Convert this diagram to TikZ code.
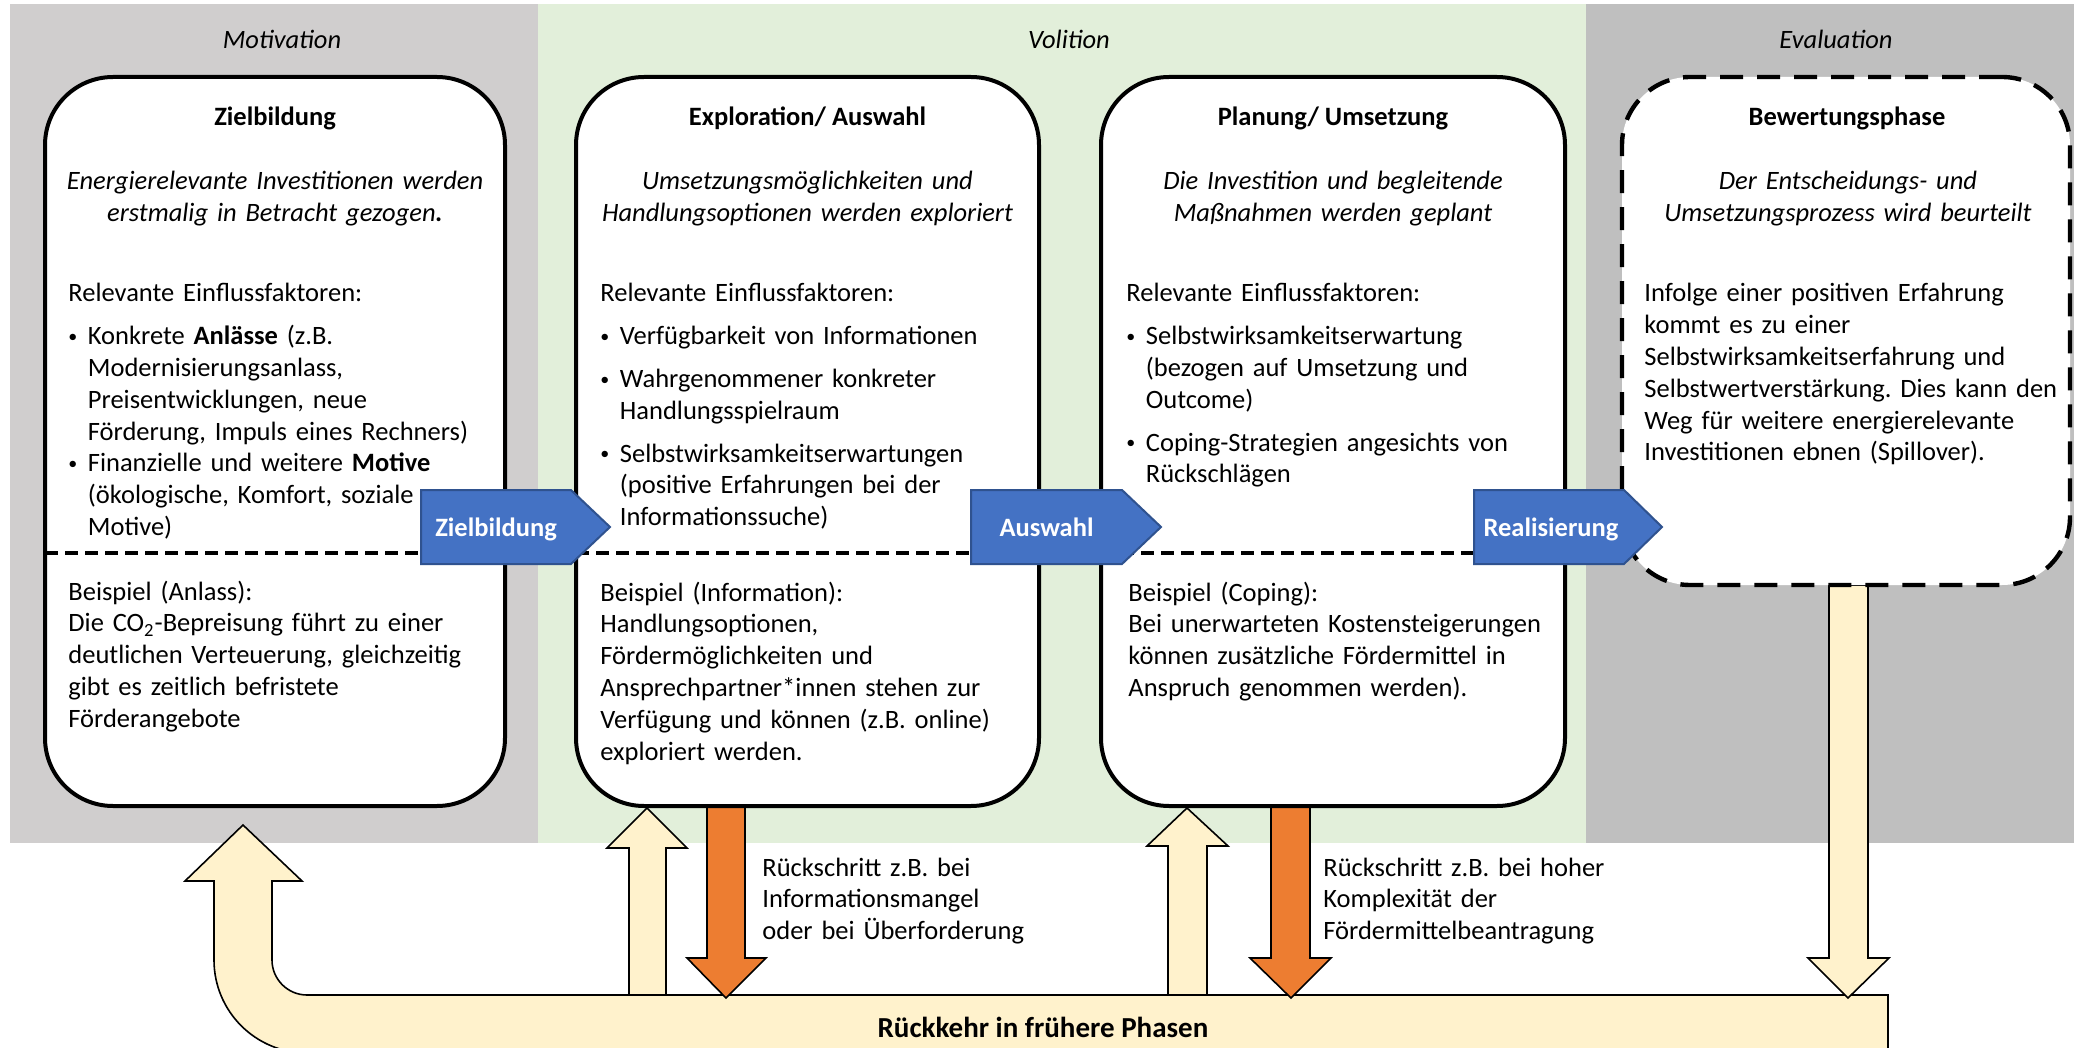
\documentclass[tikz,border=0pt]{standalone}
\usepackage{fontspec}
\setmainfont{Carlito}
\frenchspacing
\definecolor{motgray}{HTML}{D0CECE}
\definecolor{evgray}{HTML}{BFBFBF}
\definecolor{volgreen}{HTML}{E2EFDA}
\definecolor{arrblue}{HTML}{4472C4}
\definecolor{arrblueedge}{HTML}{2F528F}
\definecolor{retyellow}{HTML}{FFF2CC}
\definecolor{steporange}{HTML}{ED7D31}
\newcommand{\bfnt}{\fontsize{13.25pt}{15.9pt}\selectfont}
\newcommand{\bulitem}{\makebox[9.75pt][l]{\raisebox{1.1pt}{\fontsize{9pt}{9pt}\selectfont •}}}
\newcommand{\contind}{\hspace*{9.75pt}}
\begin{document}
\begin{tikzpicture}[x=0.5pt,y=-0.5pt,
  phasebox/.style={draw=black, line width=2pt, fill=white, rounded corners=34pt, inner sep=0pt},
  sepline/.style={line width=2pt, dash pattern=on 6.5pt off 3.5pt},
  blockarrow/.style={fill=arrblue, draw=arrblueedge, line width=1pt},
  arrowlabel/.style={text=white, font=\bfnt\bfseries, inner sep=0pt, anchor=base},
  titletext/.style={font=\bfnt\bfseries, inner sep=0pt, anchor=base},
  introtext/.style={font=\bfnt\itshape, inner sep=0pt, anchor=base, text width=300pt, align=center},
  bodytext/.style={font=\bfnt, inner sep=0pt, anchor=base west, text width=240pt, align=left},
  phaselabel/.style={font=\bfnt\itshape, inner sep=0pt, anchor=base},
  backarrow/.style={fill=retyellow, draw=black, line width=0.8pt},
  steparrow/.style={fill=steporange, draw=black, line width=0.8pt},
  notetext/.style={font=\bfnt, inner sep=0pt, anchor=base west, text width=160pt, align=left},
]
\useasboundingbox (0,0) rectangle (2074,1048);
\clip (0,0) rectangle (2074,1048);
% phase panels
\fill[motgray] (10,4) rectangle (538,843);
\fill[volgreen] (538,4) rectangle (1586,843);
\fill[evgray] (1586,4) rectangle (2074,843);
\node[phaselabel] (lmot) at (282,49) {Motivation};
\node[phaselabel] (lvol) at (1069,49) {Volition};
\node[phaselabel] (leva) at (1836,49) {Evaluation};

% return arrow (U-shaped)
\draw[backarrow] (243,825) -- (302,881) -- (272,881) -- (272,960)
  .. controls (272,979.3) and (287.7,995) .. (307,995) -- (1888,995) -- (1888,1053) -- (307,1053)
  .. controls (255.6,1053) and (214,1011.4) .. (214,960) -- (214,881) -- (185,881) -- cycle;
\node[font=\fontsize{14.5pt}{17pt}\selectfont\bfseries, inner sep=0pt, anchor=base] (ret) at (1043,1037) {Rückkehr in frühere Phasen};

% small up arrows
\draw[backarrow] (647,808) -- (687,848) -- (666,848) -- (666,995) -- (629,995) -- (629,848) -- (607,848) -- cycle;
\draw[backarrow] (1187,808) -- (1228,846) -- (1207,846) -- (1207,995) -- (1168,995) -- (1168,846) -- (1147,846) -- cycle;
% evaluation down arrow
\draw[backarrow] (1829,585) -- (1868,585) -- (1868,958) -- (1889,958) -- (1848,998) -- (1808,958) -- (1829,958) -- cycle;
% orange step-back arrows
\draw[steparrow] (707,806) -- (745,806) -- (745,958) -- (766,958) -- (726,998) -- (687,958) -- (707,958) -- cycle;
\draw[steparrow] (1271,806) -- (1310,806) -- (1310,958) -- (1331,958) -- (1291,998) -- (1250,958) -- (1271,958) -- cycle;

\node[notetext] (n1) at (762,876) {Rückschritt z.B. bei\\Informationsmangel\\oder bei Überforderung};
\node[notetext] (n2) at (1323,876) {Rückschritt z.B. bei hoher\\Komplexität der\\Fördermittelbeantragung};

% phase boxes
\node[phasebox, minimum width=230pt, minimum height=364.5pt] (b1) at (275,441.5) {};
\node[phasebox, minimum width=231.5pt, minimum height=364.5pt] (b2) at (807.5,441.5) {};
\node[phasebox, minimum width=232pt, minimum height=364.5pt] (b3) at (1333,441.5) {};
\node[phasebox, dash pattern=on 11.5pt off 7pt, line width=2.2pt, minimum width=224pt, minimum height=254pt] (b4) at (1846,331) {};

% separators
\draw[sepline] (45,553) -- (421,553);
\draw[sepline] (576,553) -- (971,553);
\draw[sepline] (1101,553) -- (1474,553);

% transition arrows
\draw[blockarrow] (421,490) -- (571,490) -- (610,527) -- (571,564) -- (421,564) -- cycle;
\node[arrowlabel] (az) at (496,536) {Zielbildung};
\draw[blockarrow] (971,490) -- (1122,490) -- (1161,527) -- (1122,564) -- (971,564) -- cycle;
\node[arrowlabel] (aa) at (1046.5,536) {Auswahl};
\draw[blockarrow] (1474,490) -- (1624,490) -- (1662,527) -- (1624,564) -- (1474,564) -- cycle;
\node[arrowlabel] (ar) at (1551,536) {Realisierung};

% box 1
\node[titletext] (t1) at (275,126) {Zielbildung};
\node[introtext] (i1) at (275,190) {Energierelevante Investitionen werden\\erstmalig in Betracht gezogen\textbf{.}};
\node[bodytext] (f1) at (68,302) {Relevante Einflussfaktoren:\\[5.5pt]
 \bulitem Konkrete \textbf{Anlässe} (z.B.\\
 \contind Modernisierungsanlass,\\
 \contind Preisentwicklungen, neue\\
 \contind Förderung, Impuls eines Rechners)\\
 \bulitem Finanzielle und weitere \textbf{Motive}\\
 \contind (ökologische, Komfort, soziale\\
 \contind Motive)};
\node[bodytext] (e1) at (68,600) {Beispiel (Anlass):\\Die CO\textsubscript{2}-Bepreisung führt zu einer\\deutlichen Verteuerung, gleichzeitig\\gibt es zeitlich befristete\\Förderangebote};

% box 2
\node[titletext] (t2) at (807.5,126) {Exploration/ Auswahl};
\node[introtext] (i2) at (807.5,190) {Umsetzungsmöglichkeiten und\\Handlungsoptionen werden exploriert};
\node[bodytext] (f2) at (600,302) {Relevante Einflussfaktoren:\\[5.5pt]
 \bulitem Verfügbarkeit von Informationen\\[5.5pt]
 \bulitem Wahrgenommener konkreter\\
 \contind Handlungsspielraum\\[5.5pt]
 \bulitem Selbstwirksamkeitserwartungen\\
 \contind (positive Erfahrungen bei der\\
 \contind Informationssuche)};
\node[bodytext] (e2) at (600,601) {Beispiel (Information):\\Handlungsoptionen,\\Fördermöglichkeiten und\\Ansprechpartner*innen stehen zur\\Verfügung und können (z.B. online)\\exploriert werden.};

% box 3
\node[titletext] (t3) at (1333,126) {Planung/ Umsetzung};
\node[introtext] (i3) at (1333,190) {Die Investition und begleitende\\Maßnahmen werden geplant};
\node[bodytext] (f3) at (1126,302) {Relevante Einflussfaktoren:\\[5.5pt]
 \bulitem Selbstwirksamkeitserwartung\\
 \contind (bezogen auf Umsetzung und\\
 \contind Outcome)\\[5.5pt]
 \bulitem Coping-Strategien angesichts von\\
 \contind Rückschlägen};
\node[bodytext] (e3) at (1128,601) {Beispiel (Coping):\\Bei unerwarteten Kostensteigerungen\\können zusätzliche Fördermittel in\\Anspruch genommen werden).};

% box 4
\node[titletext] (t4) at (1847,126) {Bewertungsphase};
\node[introtext] (i4) at (1848,190) {Der Entscheidungs- und\\Umsetzungsprozess wird beurteilt};
\node[bodytext] (f4) at (1644,302) {Infolge einer positiven Erfahrung\\kommt es zu einer\\Selbstwirksamkeitserfahrung und\\Selbstwertverstärkung. Dies kann den\\Weg für weitere energierelevante\\Investitionen ebnen (Spillover).};
\end{tikzpicture}
\end{document}
